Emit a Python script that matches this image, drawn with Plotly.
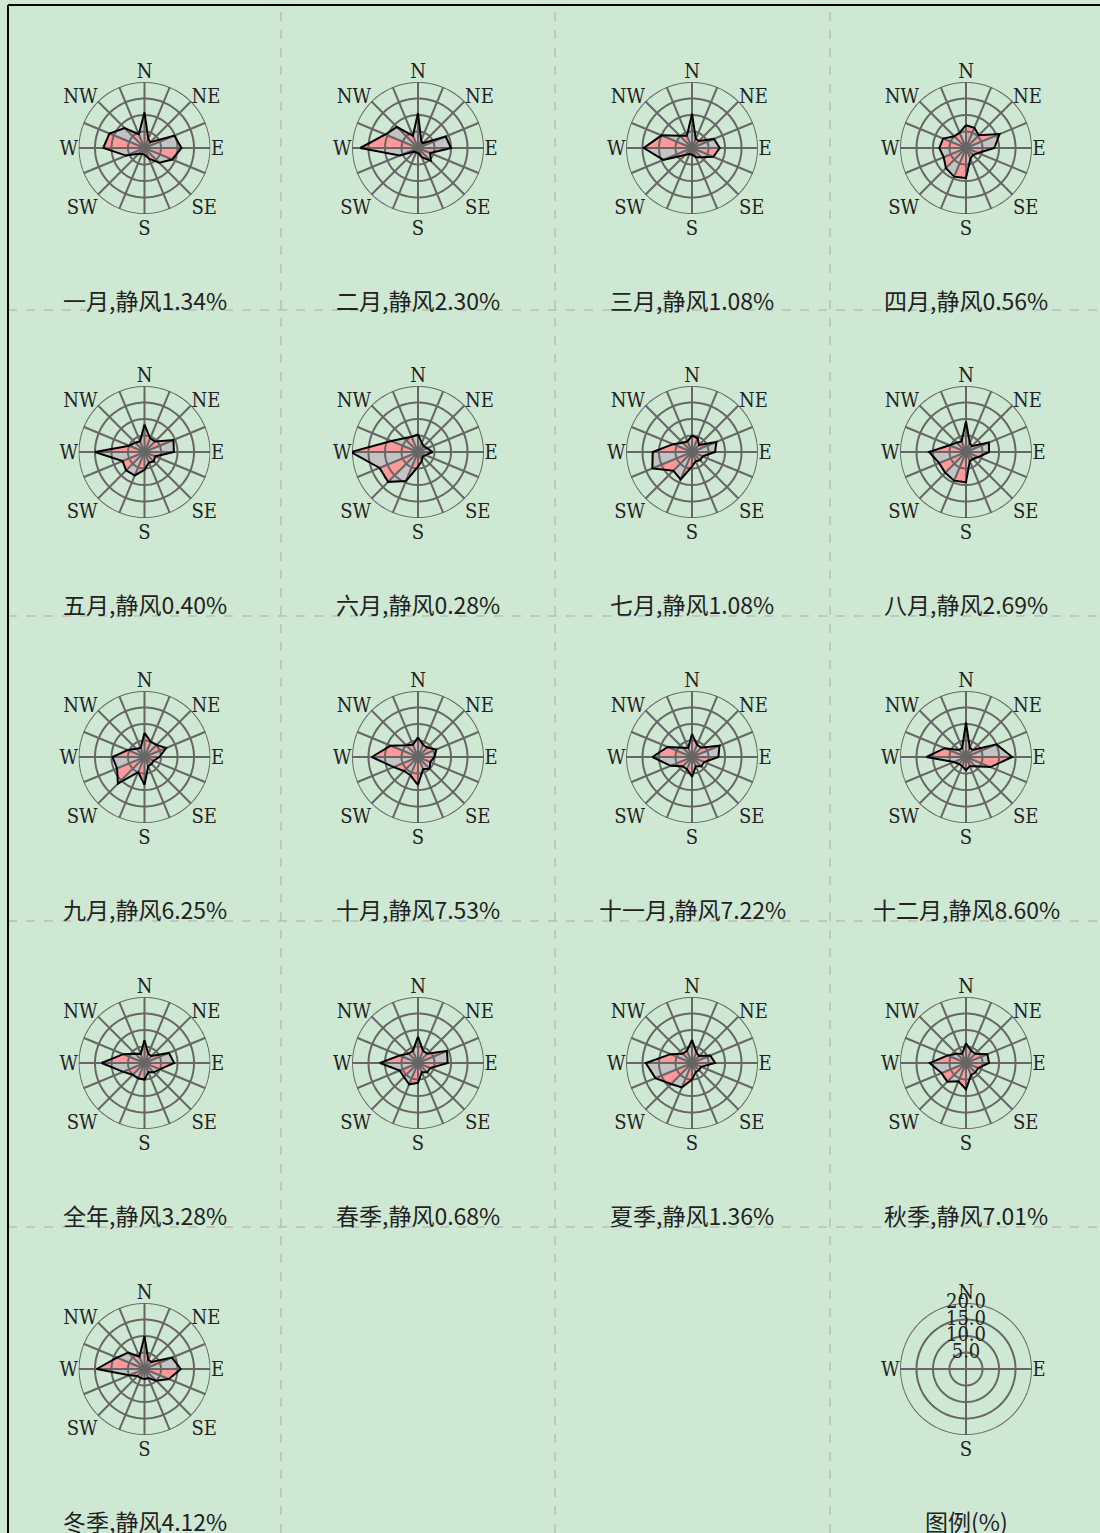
import plotly.graph_objects as go
import numpy as np

W, H = 1100, 1533

directions = ["N", "NNE", "NE", "ENE", "E", "ESE", "SE", "SSE",
              "S", "SSW", "SW", "WSW", "W", "WNW", "NW", "NNW"]
dir_angles = [i * 22.5 for i in range(16)]
label_angles = [0, 45, 90, 135, 180, 225, 270, 315]
label_text = ["N", "NE", "E", "SE", "S", "SW", "W", "NW"]

names = ["一月", "二月", "三月", "四月", "五月", "六月", "七月", "八月",
         "九月", "十月", "十一月", "十二月", "全年", "春季", "夏季", "秋季", "冬季"]
calm = [1.34, 2.30, 1.08, 0.56, 0.40, 0.28, 1.08, 2.69,
        6.25, 7.53, 7.22, 8.60, 3.28, 0.68, 1.36, 7.01, 4.12]

# frequencies (%) for N, NNE, NE, ENE, E, ESE, SE, SSE, S, SSW, SW, WSW, W, WNW, NW, NNW
jan = [10.8, 3, 2.5, 9.8, 11.2, 9.1, 6.3, 3.5, 2, 2, 2.5, 6, 12.5, 11.5, 8.5, 4.5]
feb = [10.6, 2.5, 2, 9.1, 10, 4, 5.5, 3, 1.5, 1.5, 1.5, 6, 17.5, 10.7, 9, 4]
mar = [10.4, 3, 3, 7.2, 8.4, 7, 4, 3, 2, 2, 3, 9.4, 14.6, 10, 5.3, 4]
apr = [6.9, 6.6, 5.5, 11, 8.6, 4, 3, 3.5, 9.1, 9.4, 8.6, 7.3, 8.1, 7.5, 5, 5]
may = [8.3, 4.5, 4.5, 9.5, 8.9, 3.5, 4, 3.5, 5.4, 7.7, 7.9, 7.2, 15, 5, 4, 3.5]
jun = [5.3, 3, 2.5, 3, 4.4, 2.5, 2, 3, 4.4, 9.5, 12.8, 12.6, 20.3, 8.7, 5.9, 5]
jul = [5, 4.5, 3, 8, 7, 3.5, 3.5, 3, 4.4, 9, 8, 13, 11.9, 6.2, 4, 3.5]
aug = [9.3, 3, 2.5, 7.5, 7, 4, 3, 3, 9.2, 9.4, 8.9, 8.8, 11.2, 5.4, 4, 3.5]
sep = [7.3, 5, 5.2, 7.1, 4.5, 3, 3, 3, 8.4, 5, 11.4, 9, 9.7, 5.5, 3.5, 3]
octo = [6, 4, 4, 6, 5, 4, 5, 4, 8.5, 6, 6, 8, 14, 9, 5, 4]
nov = [7, 4, 4, 9, 8, 4, 4, 3, 6, 4, 4, 7, 12, 8, 4, 3]
dec = [10.5, 3, 3, 10, 14, 8, 4, 3, 4, 3, 3, 4, 12, 7, 3, 3]
year = [7, 3, 3, 8, 9, 5, 4, 3, 5, 5, 5, 7, 13, 7, 4, 3]
spring = [8, 4, 4, 9.5, 9, 4, 4, 3, 6, 7, 6, 6, 11.5, 6, 4, 4]
summer = [7, 3.5, 3, 6, 7, 3, 3, 3, 5, 8, 9, 12, 14, 7, 4, 4]
autumn = [6, 4, 4, 7, 7, 4, 4, 4, 8, 6, 8, 8, 11, 6, 4, 3]
winter = [10, 3, 3, 9, 11, 8, 5, 3, 3, 3, 3, 5, 14.5, 9, 7, 4]

series = [jan, feb, mar, apr, may, jun, jul, aug, sep, octo, nov, dec,
          year, spring, summer, autumn, winter]

rings = [5, 10, 15, 20]
ring_labels = ["5.0", "10.0", "15.0", "20.0"]

col_cx = [144.5, 418, 692, 966]
row_cy = [148, 452, 757, 1063, 1369]
R = 66

BG = "#cfe8d3"
PINK = "#ff9999"
GREY = "#c3c3c3"
GRID = "#666666"
LABEL_FONT = dict(family="DejaVu Serif Condensed, Liberation Serif", size=20, color="#222")
CAP_FONT = dict(family="Noto Sans CJK SC", size=23, color="#222")

fig = go.Figure()
polars = {}


def polar_name(k):
    return "polar" if k == 0 else f"polar{k+1}"


def ring_trace(sub, radii):
    th, rr = [], []
    circ = np.linspace(0, 360, 145)
    for rv in radii:
        th += list(circ) + [None]
        rr += [rv] * len(circ) + [None]
    return go.Scatterpolar(r=rr, theta=th, mode="lines", subplot=sub,
                           line=dict(color=GRID, width=2), hoverinfo="skip",
                           showlegend=False, cliponaxis=False)


def spoke_trace(sub, angs):
    th, rr = [], []
    for a in angs:
        th += [a, a, None]
        rr += [0, rings[-1], None]
    return go.Scatterpolar(r=rr, theta=th, mode="lines", subplot=sub,
                           line=dict(color=GRID, width=2), hoverinfo="skip",
                           showlegend=False, cliponaxis=False)


def polar_layout(cx, cy, tv, tt):
    return dict(
        domain=dict(x=[(cx - R) / W, (cx + R) / W], y=[1 - (cy + R) / H, 1 - (cy - R) / H]),
        bgcolor="rgba(0,0,0,0)",
        radialaxis=dict(visible=False, range=[0, 20]),
        angularaxis=dict(rotation=90, direction="clockwise", tickmode="array",
                         tickvals=tv, ticktext=tt, showgrid=False,
                         showline=False, ticks="", tickfont=LABEL_FONT),
    )


annotations = []
for k, vals in enumerate(series):
    sub = polar_name(k)
    row, col = divmod(k, 4)
    cx, cy = col_cx[col], row_cy[row]
    n = len(vals)
    for parity, color in ((0, PINK), (1, GREY)):
        th, rr = [], []
        for i in range(parity, n, 2):
            j = (i + 1) % n
            th += [dir_angles[i], dir_angles[i], dir_angles[j], dir_angles[j], None]
            rr += [0, vals[i], vals[j], 0, None]
        fig.add_trace(go.Scatterpolar(r=rr, theta=th, mode="lines", fill="toself",
                                      fillcolor=color, line=dict(width=0, color=color),
                                      subplot=sub, hoverinfo="skip", showlegend=False,
                                      cliponaxis=False))
    fig.add_trace(ring_trace(sub, rings))
    fig.add_trace(spoke_trace(sub, dir_angles))
    fig.add_trace(go.Scatterpolar(r=list(vals) + [vals[0]], theta=dir_angles + [dir_angles[0]],
                                  mode="lines", line=dict(color="black", width=2),
                                  subplot=sub, hoverinfo="skip", showlegend=False,
                                  cliponaxis=False))
    polars[sub] = polar_layout(cx, cy, label_angles, label_text)
    annotations.append(dict(x=cx / W, y=1 - (cy + 152) / H, xref="paper", yref="paper",
                            text=f"{names[k]},静风{calm[k]:.2f}%", showarrow=False,
                            font=CAP_FONT, xanchor="center", yanchor="middle"))

# legend panel
k = len(series)
sub = polar_name(k)
cx, cy = col_cx[3], row_cy[4]
fig.add_trace(ring_trace(sub, rings))
fig.add_trace(spoke_trace(sub, [0, 90, 180, 270]))
fig.add_trace(go.Scatterpolar(r=rings, theta=[0] * len(rings), mode="text", text=ring_labels,
                              textposition="middle center", subplot=sub, hoverinfo="skip",
                              textfont=dict(family="DejaVu Serif Condensed, Liberation Serif",
                                            size=20, color="#222"),
                              showlegend=False, cliponaxis=False))
polars[sub] = polar_layout(cx, cy, [0, 90, 180, 270], ["N", "E", "S", "W"])
annotations.append(dict(x=cx / W, y=1 - (cy + 152) / H, xref="paper", yref="paper",
                        text="图例(%)", showarrow=False, font=CAP_FONT,
                        xanchor="center", yanchor="middle"))

shapes = []
for xv in [281, 555, 830]:
    shapes.append(dict(type="line", xref="paper", yref="paper", x0=xv / W, x1=xv / W,
                       y0=0, y1=1 - 5 / H, line=dict(color="#aaaaaa", width=1, dash="dash")))
for yv in [310, 616, 921, 1227]:
    shapes.append(dict(type="line", xref="paper", yref="paper", x0=8 / W, x1=1,
                       y0=1 - yv / H, y1=1 - yv / H, line=dict(color="#aaaaaa", width=1, dash="dash")))
shapes.append(dict(type="line", xref="paper", yref="paper", x0=8 / W, x1=8 / W, y0=0, y1=1 - 5 / H,
                   line=dict(color="black", width=2)))
shapes.append(dict(type="line", xref="paper", yref="paper", x0=8 / W, x1=1, y0=1 - 5 / H, y1=1 - 5 / H,
                   line=dict(color="black", width=2)))

fig.update_layout(width=W, height=H, margin=dict(l=0, r=0, t=0, b=0),
                  paper_bgcolor=BG, plot_bgcolor=BG, showlegend=False,
                  annotations=annotations, shapes=shapes, **polars)

fig.write_html("out.html", config={"displayModeBar": False},
               post_script="document.body.style.margin='0';document.body.style.overflow='hidden';")
